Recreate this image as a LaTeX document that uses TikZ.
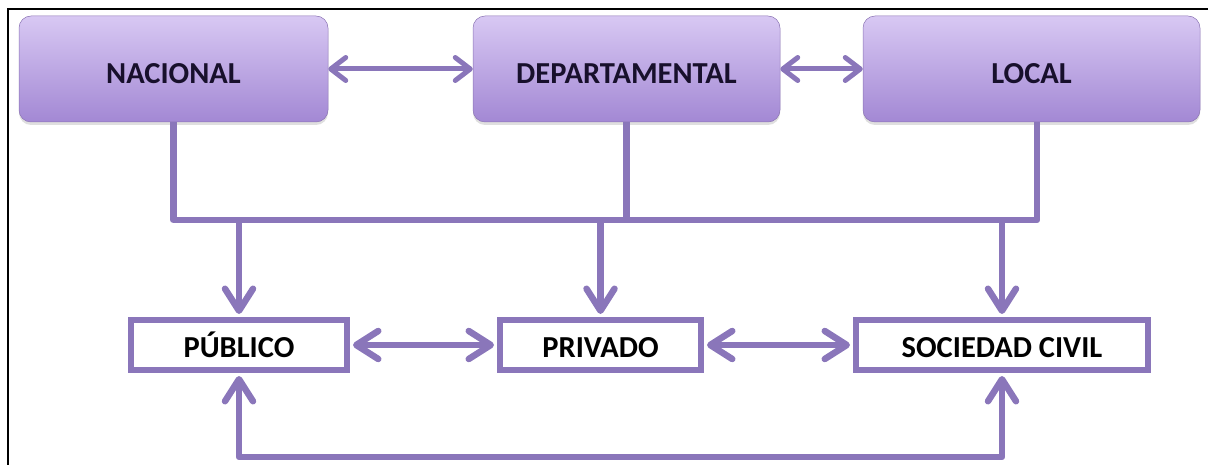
\documentclass[tikz,border=0pt]{standalone}
\usepackage{fontspec}
\setmainfont{Carlito}
\usetikzlibrary{arrows.meta,shadows}
\definecolor{lnc}{RGB}{138,118,186}
\definecolor{boxtop}{RGB}{216,200,243}
\definecolor{boxbot}{RGB}{163,136,212}
\definecolor{txtc}{RGB}{24,16,44}
\begin{document}
\begin{tikzpicture}[x=1pt,y=-1pt,
  topbox/.style={rectangle, rounded corners=12pt, top color=boxtop, bottom color=boxbot,
    draw=boxbot!85!black, line width=0.5pt, minimum height=106pt, inner sep=0pt,
    text height=29pt, text depth=0pt,
    font=\fontsize{30.5}{36}\selectfont\bfseries, text=txtc,
    drop shadow={shadow xshift=0pt, shadow yshift=-3pt, opacity=0.25}},
  botbox/.style={rectangle, draw=lnc, line width=6pt, fill=white, minimum height=50pt,
    inner sep=0pt, text height=25pt, text depth=0pt,
    font=\fontsize{30.5}{36}\selectfont\bfseries, text=black},
  ln/.style={draw=lnc, line width=6.5pt, line join=round},
  toparrow/.style={draw=lnc, line width=5pt, {Straight Barb[length=15pt,width=23pt,round]}-{Straight Barb[length=15pt,width=23pt,round]}},
  bigtip/.style={draw=lnc, line width=6.5pt, line join=round, -{Straight Barb[length=22pt,width=28pt,round]}},
  bigboth/.style={draw=lnc, line width=6.5pt, line join=round, {Straight Barb[length=22pt,width=28pt,round]}-{Straight Barb[length=22pt,width=28pt,round]}}
]
\useasboundingbox (0,0) rectangle (1208,465);
\draw[line width=2pt, line cap=rect] (8,465) -- (8,9) -- (1208,9);

\node[topbox, minimum width=309pt] (nac) at (173.5,69) {NACIONAL};
\node[topbox, minimum width=307pt] (dep) at (626.5,69) {DEPARTAMENTAL};
\node[topbox, minimum width=337pt] (loc) at (1031.5,69) {LOCAL};

\node[botbox, minimum width=216pt] (pub) at (239,345) {PÚBLICO};
\node[botbox, minimum width=201pt] (pri) at (600.5,345) {PRIVADO};
\node[botbox, minimum width=292pt] (soc) at (1002,345) {SOCIEDAD CIVIL};

\coordinate (busy) at (0,220);
\coordinate (loopy) at (0,457);
\coordinate (lv) at (1037,122);

\draw[toparrow] (nac.east) -- (dep.west);
\draw[toparrow] (dep.east) -- (loc.west);

\draw[ln] (nac.south) -- (nac.south |- busy) -| (lv);
\draw[ln] (dep.south) -- (dep.south |- busy);

\draw[bigtip] (pub.north |- busy) -- ([yshift=3pt]pub.north);
\draw[bigtip] (pri.north |- busy) -- ([yshift=3pt]pri.north);
\draw[bigtip] (soc.north |- busy) -- ([yshift=3pt]soc.north);

\draw[bigboth] ([xshift=3pt]pub.east) -- ([xshift=-3pt]pri.west);
\draw[bigboth] ([xshift=3pt]pri.east) -- ([xshift=-3pt]soc.west);

\draw[bigboth] ([yshift=-3pt]pub.south) -- (pub.south |- loopy) -- (soc.south |- loopy) -- ([yshift=-3pt]soc.south);
\end{tikzpicture}
\end{document}
